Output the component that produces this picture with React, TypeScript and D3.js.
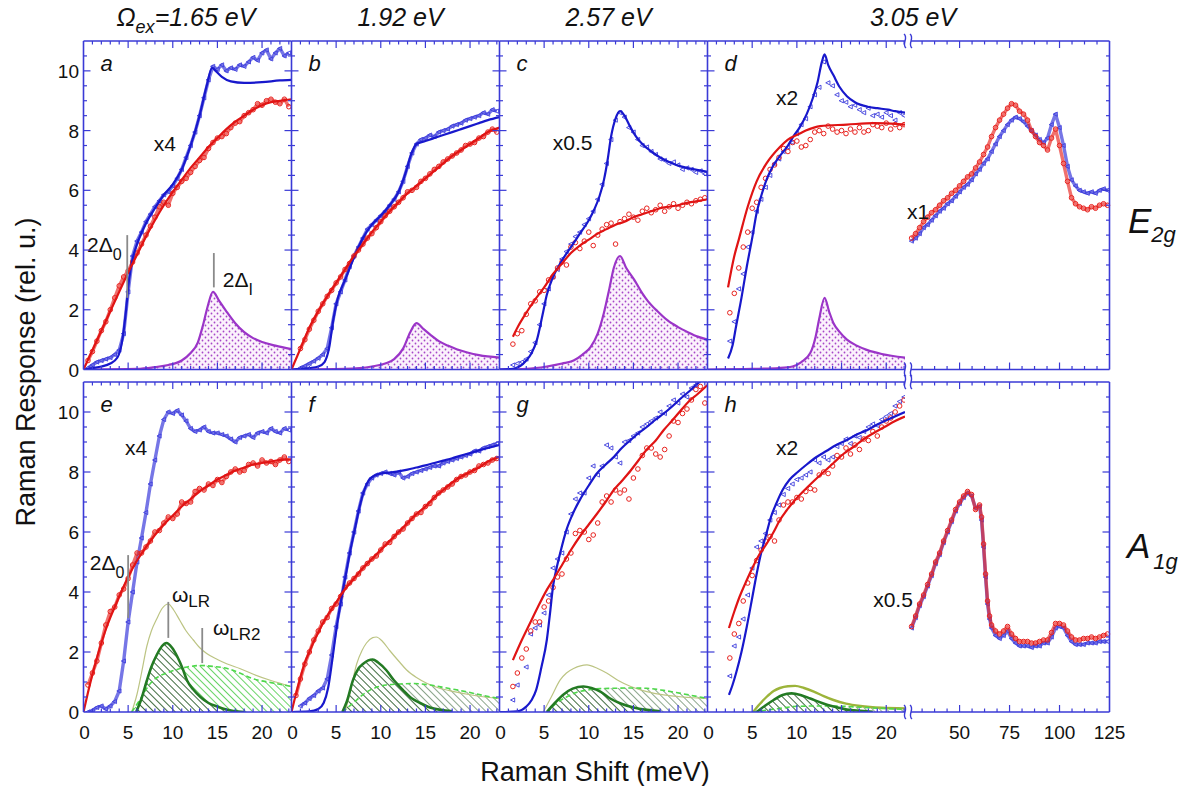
import * as d3 from 'd3';

type Pt = [number, number];
type Series = (number | null)[];

// shared Raman-shift grid (meV) for the low-energy data panels
const SHIFT = [
  0.5, 1, 1.5, 2, 2.5, 3, 3.5, 4, 4.5, 5,
  5.5, 6, 6.5, 7, 7.5, 8, 8.5, 9, 9.5, 10,
  10.5, 11, 11.5, 12, 12.5, 13, 13.5, 14, 14.5, 15,
  15.5, 16, 16.5, 17, 17.5, 18, 18.5, 19, 19.5, 20,
  20.5, 21, 21.5, 22, 22.5, 23,
];

// ---- E2g, a (1.65 eV)
const A_RED: Series = [0.3, 0.6, 0.95, 1.3, 1.6, 2.0, 2.4, 2.8, 3.1, 3.3, 3.6, 3.9, 4.2, 4.5, 4.8, 5.1, 5.45, 5.6, 5.5, 5.9, 6.1, 6.3, 6.4, 6.6, 6.8, 7.0, 7.1, 7.4, 7.6, 7.75, 7.8, 7.9, 8.1, 8.25, 8.3, 8.5, 8.6, 8.7, 8.9, 8.85, 9.0, 9.05, 8.95, 8.9, 9.05, 8.8];
const A_BLUE: Series = [0.05, 0.15, 0.25, 0.3, 0.35, 0.4, 0.5, 0.65, 1.2, 2.6, 3.8, 4.3, 4.6, 4.95, 5.2, 5.45, 5.65, 5.85, 5.95, 6.15, 6.4, 6.7, 7.1, 7.5, 7.95, 8.5, 9.1, 9.7, 10.15, 10.05, 10.2, 10.0, 10.1, 10.05, 10.2, 10.15, 10.3, 10.45, 10.35, 10.6, 10.7, 10.4, 10.6, 10.75, 10.5, 10.6];
const A_RED_FIT: Pt[] = [[0, 0], [1, 0.65], [2, 1.3], [3, 1.95], [4, 2.6], [5, 3.25], [6, 3.85], [7, 4.45], [8, 5.0], [9, 5.5], [10, 5.95], [11, 6.35], [12, 6.75], [13, 7.1], [14, 7.45], [15, 7.75], [16, 8.05], [17, 8.3], [18, 8.5], [19, 8.7], [20, 8.85], [21, 8.95], [22, 9.0], [23.3, 9.05]];
const A_BLUE_FIT: Pt[] = [[0, 0], [1, 0.05], [2, 0.1], [3, 0.2], [3.8, 0.4], [4.3, 0.9], [4.7, 1.8], [5.1, 3.0], [5.5, 3.7], [6, 4.2], [7, 4.9], [8, 5.4], [9, 5.85], [10, 6.2], [11, 6.7], [12, 7.5], [13, 8.5], [13.8, 9.5], [14.4, 10.1], [14.8, 10.0], [15.5, 9.8], [16.5, 9.65], [18, 9.6], [20, 9.62], [22, 9.68], [23.3, 9.7]];
const A_PEAK: Pt[] = [[0, 0], [6, 0.02], [8, 0.08], [9.5, 0.15], [11, 0.3], [12, 0.55], [12.8, 0.9], [13.4, 1.5], [13.9, 2.1], [14.5, 2.6], [15.2, 2.3], [16, 1.95], [17, 1.55], [18, 1.25], [19, 1.05], [20, 0.92], [21.5, 0.8], [23.3, 0.68]];

// ---- E2g, b (1.92 eV)
const B_RED: Series = [null, 0.7, 1.0, 1.35, 1.65, 1.95, 2.2, 2.45, 2.65, 2.9, 3.1, 3.35, 3.55, 3.8, 4.0, 4.2, 4.4, 4.55, 4.75, 4.95, 5.15, 5.3, 5.45, 5.6, 5.75, 5.95, 6.0, 6.1, 6.3, 6.4, 6.55, 6.7, 6.8, 6.95, 7.05, 7.15, 7.25, 7.35, 7.5, 7.55, 7.6, 7.75, 7.8, 7.95, 8.05, 7.95];
const B_BLUE: Series = [null, 0.05, 0.12, 0.2, 0.28, 0.38, 0.5, 0.7, 1.4, 2.2, 2.6, 3.0, 3.45, 3.8, 4.1, 4.4, 4.7, 4.85, 5.0, 5.15, 5.3, 5.5, 5.7, 5.95, 6.3, 6.8, 7.25, 7.55, 7.7, 7.75, 7.85, 7.8, 7.95, 8.0, 8.05, 8.15, 8.2, 8.25, 8.35, 8.4, 8.45, 8.5, 8.6, 8.55, 8.7, 8.65];
const B_RED_FIT: Pt[] = [[0, 0], [1, 0.7], [2, 1.4], [3, 1.95], [4, 2.45], [5, 2.9], [6, 3.35], [7, 3.8], [8, 4.2], [9, 4.6], [10, 4.95], [11, 5.3], [12, 5.6], [13, 5.9], [14, 6.15], [15, 6.4], [16, 6.65], [17, 6.9], [18, 7.15], [19, 7.35], [20, 7.55], [21, 7.75], [22, 7.95], [23.3, 8.1]];
const B_BLUE_FIT: Pt[] = [[0, 0], [1, 0.02], [2, 0.05], [3, 0.1], [3.7, 0.25], [4.2, 0.7], [4.7, 1.7], [5.2, 2.4], [6, 3.0], [7, 3.75], [8, 4.4], [9, 4.85], [10, 5.15], [11, 5.5], [12, 5.95], [12.8, 6.6], [13.4, 7.2], [14, 7.55], [15, 7.65], [16, 7.75], [17, 7.85], [18, 7.95], [19, 8.05], [20, 8.15], [21, 8.25], [22, 8.35], [23.3, 8.45]];
const B_PEAK: Pt[] = [[0, 0], [6, 0.02], [9, 0.1], [10.5, 0.2], [11.5, 0.35], [12.5, 0.7], [13.3, 1.25], [14, 1.55], [14.8, 1.35], [15.6, 1.15], [16.5, 0.95], [17.5, 0.8], [18.5, 0.68], [19.7, 0.57], [21, 0.48], [23.3, 0.4]];

// ---- E2g, c (2.57 eV)
const C_RED: Series = [null, null, 0.85, 1.2, 1.3, 1.85, 2.2, 2.3, 2.6, 2.65, 3.0, 3.1, 3.4, 3.6, 3.5, 4.1, 4.25, 4.05, 4.3, 4.6, 4.15, 4.5, 4.7, 4.85, 4.9, 4.2, 4.95, 5.05, 5.2, 5.1, 5.0, 5.3, 5.4, 5.25, 5.35, 5.5, 5.3, 5.45, 5.55, 5.4, 5.5, 5.6, 5.55, 5.65, 5.7, 5.75];
const C_BLUE: Series = [null, null, 0.15, 0.2, 0.25, 0.35, 0.6, 0.9, 1.5, 2.2, 2.7, 3.1, 3.35, 3.7, 3.95, 4.2, 4.45, 4.6, 4.85, 5.05, 5.3, 5.7, 6.2, 6.9, 7.7, 8.35, 8.6, 8.45, 8.1, 7.95, 7.7, 7.5, 7.45, 7.3, 7.2, 7.05, 7.0, 6.9, 6.95, 6.85, 6.7, 6.75, 6.7, 6.6, 6.65, 6.55];
const C_RED_FIT: Pt[] = [[1.5, 1.1], [2, 1.4], [3, 1.9], [4, 2.35], [4.5, 2.55], [5, 2.75], [6, 3.2], [7, 3.55], [8, 3.9], [9, 4.15], [10, 4.35], [11, 4.55], [12, 4.7], [13, 4.85], [14, 4.95], [15, 5.1], [16, 5.2], [17, 5.3], [18, 5.4], [19, 5.45], [20, 5.5], [21, 5.58], [22, 5.63], [23.3, 5.7]];
const C_BLUE_FIT: Pt[] = [[0, 0], [1.5, 0.02], [3, 0.3], [3.6, 0.55], [4.2, 1.0], [4.8, 1.8], [5.3, 2.5], [6, 3.1], [7, 3.65], [8, 4.1], [9, 4.55], [10, 5.0], [10.6, 5.35], [11.2, 5.8], [11.7, 6.35], [12.1, 7.0], [12.5, 7.8], [13.0, 8.4], [13.5, 8.65], [14, 8.5], [14.6, 8.15], [15.3, 7.8], [16, 7.55], [17, 7.3], [18, 7.1], [19, 6.95], [20.3, 6.8], [21.5, 6.72], [23.3, 6.62]];
const C_PEAK: Pt[] = [[0, 0], [3, 0.02], [5.3, 0.1], [7, 0.2], [8.3, 0.3], [9.3, 0.5], [10.2, 0.75], [11, 1.2], [11.7, 1.9], [12.3, 2.7], [12.8, 3.4], [13.5, 3.8], [14.2, 3.4], [15.1, 3.0], [16, 2.55], [16.6, 2.3], [17.7, 1.95], [18.8, 1.65], [20, 1.42], [21.1, 1.25], [22.2, 1.1], [23.3, 1.0]];

// ---- E2g, d (3.05 eV)
const D_RED: Series = [null, null, null, null, 1.9, 2.55, 3.4, 4.1, 4.6, 5.4, 5.6, 6.1, 6.4, 6.7, 6.85, 7.1, 7.4, 7.3, 7.6, 7.65, 7.45, 7.5, 7.7, 7.95, 8.0, 7.9, 8.15, 8.05, 7.95, 8.0, 7.9, 8.05, 7.95, 8.1, 7.95, 8.0, 8.2, 8.15, 8.1, 8.25, 8.05, 8.2, 8.1, 8.2, null, null];
const D_BLUE: Series = [null, null, null, null, 0.95, 1.6, 2.7, 3.2, 4.1, 4.6, 5.3, 5.7, 6.1, 6.5, 6.9, 7.05, 7.3, 7.45, 7.6, 7.9, 8.2, 8.4, 8.8, 9.2, 9.45, 10.3, 9.6, 9.5, 9.2, 9.0, 8.95, 8.8, 8.85, 8.7, 8.6, 8.75, 8.5, 8.55, 8.45, 8.6, 8.5, 8.35, 8.6, 8.5, null, null];
const D_RED_FIT: Pt[] = [[2.3, 2.75], [3, 3.8], [3.5, 4.35], [4.5, 5.45], [5.5, 6.3], [6.6, 6.9], [8.1, 7.45], [9, 7.7], [10.3, 7.9], [11, 8.0], [12.6, 8.15], [15.6, 8.2], [18.6, 8.25], [22.1, 8.2]];
const D_BLUE_FIT: Pt[] = [[2.3, 0.37], [2.8, 0.8], [3.2, 1.45], [3.8, 2.4], [4.4, 3.45], [5, 4.4], [5.5, 5.25], [6, 5.8], [6.6, 6.35], [7.3, 6.8], [8.1, 7.15], [9, 7.5], [9.6, 7.8], [10.3, 8.1], [11.1, 8.55], [11.8, 9.1], [12.3, 9.6], [12.8, 10.3], [13.1, 10.55], [13.5, 10.2], [14.1, 9.85], [14.8, 9.45], [15.6, 9.15], [16.5, 8.95], [17.9, 8.8], [19, 8.75], [20.2, 8.7], [21, 8.65], [22.1, 8.6]];
const D_PEAK: Pt[] = [[0, 0], [5, 0.02], [8, 0.05], [9.5, 0.1], [10.5, 0.25], [11.5, 0.55], [12.1, 1.1], [12.5, 1.7], [13.1, 2.4], [13.6, 1.95], [14.1, 1.55], [14.8, 1.25], [15.6, 1.0], [16.7, 0.8], [17.9, 0.65], [19.5, 0.52], [22.1, 0.4]];

// ---- A1g, e (1.65 eV)
const E_RED: Series = [0.9, 1.3, 1.7, 2.3, 2.9, 3.35, 3.5, 3.9, 4.1, 4.45, 4.9, 5.3, 5.3, 5.5, 5.7, 6.0, 6.05, 6.3, 6.5, 6.45, 6.6, 7.0, 6.95, 7.0, 7.35, 7.45, 7.4, 7.6, 7.55, 7.75, 7.65, 7.85, 8.0, 8.1, 8.0, 8.05, 8.25, 8.3, 8.2, 8.4, 8.3, 8.35, 8.25, 8.4, 8.5, 8.35];
const E_BLUE: Series = [0.0, 0.05, 0.15, 0.2, 0.1, 0.2, 0.35, 0.7, 1.7, 3.0, 4.0, 5.0, 5.8, 6.65, 7.6, 8.4, 9.2, 9.75, 10.0, 9.95, 10.05, 9.9, 9.7, 9.45, 9.35, 9.4, 9.5, 9.35, 9.3, 9.3, 9.25, 9.2, 9.1, 9.0, 9.15, 9.2, 9.25, 9.15, 9.3, 9.35, 9.3, 9.45, 9.35, 9.3, 9.45, 9.4];
const E_RED_FIT: Pt[] = [[0, 0], [0.5, 0.65], [1, 1.25], [1.5, 1.8], [2, 2.3], [2.5, 2.75], [3, 3.15], [3.5, 3.5], [4, 3.85], [5, 4.5], [6, 5.05], [7, 5.5], [8, 5.9], [9, 6.25], [10, 6.55], [11, 6.85], [12, 7.1], [13, 7.35], [14, 7.55], [15, 7.75], [16, 7.9], [17, 8.05], [18, 8.15], [19, 8.25], [20, 8.3], [21, 8.35], [22, 8.4], [23.3, 8.42]];
const E_TOTAL: Pt[] = [[5.4, 0], [6, 0.6], [6.5, 1.3], [7.1, 2.2], [7.6, 2.7], [8.2, 3.1], [8.8, 3.45], [9.5, 3.6], [10.1, 3.4], [10.8, 3.05], [11.5, 2.7], [12.3, 2.4], [13, 2.15], [13.8, 1.95], [15, 1.75], [16.1, 1.6], [17.5, 1.45], [19.1, 1.25], [21, 1.05], [23.3, 0.85]];
const E_LR: Pt[] = [[5.9, 0], [6.5, 0.45], [7.1, 1.05], [7.6, 1.5], [8.2, 1.9], [8.8, 2.2], [9.3, 2.3], [9.9, 2.15], [10.5, 1.85], [11.1, 1.45], [11.6, 1.05], [12.3, 0.75], [13.1, 0.5], [14, 0.3], [15, 0.18], [16, 0.08], [16.8, 0.03], [18, 0]];
const E_LR2: Pt[] = [[5.4, 0], [6.3, 0.4], [7.0, 0.75], [7.8, 1.05], [8.5, 1.2], [9.3, 1.3], [10.5, 1.42], [11.6, 1.5], [13.1, 1.55], [14.5, 1.52], [16.1, 1.45], [17.5, 1.3], [19.1, 1.1], [21, 0.98], [23.3, 0.85]];

// ---- A1g, f (1.92 eV)
const F_RED: Series = [0.55, 1.1, 1.6, 2.0, 2.4, 2.7, 3.0, 3.15, 3.45, 3.6, 3.85, 4.15, 4.3, 4.45, 4.6, 4.8, 4.95, 5.1, 5.2, 5.4, 5.6, 5.65, 5.85, 6.0, 6.1, 6.3, 6.45, 6.6, 6.65, 6.85, 6.95, 7.15, 7.3, 7.4, 7.5, 7.6, 7.75, 7.85, 7.9, 8.0, 8.05, 8.2, 8.25, 8.3, 8.4, 8.45];
const F_BLUE: Series = [null, 0.2, 0.3, 0.45, 0.55, 0.7, 0.8, 1.1, 1.9, 2.85, 3.6, 4.5, 5.3, 6.0, 6.7, 7.3, 7.6, 7.8, 7.9, 7.95, 8.0, 7.95, 7.9, 8.0, 7.8, 7.85, 7.95, 8.0, 8.05, 8.1, 8.15, 8.2, 8.2, 8.3, 8.35, 8.4, 8.45, 8.5, 8.55, 8.6, 8.7, 8.7, 8.8, 8.85, 8.9, 8.95];
const F_RED_FIT: Pt[] = [[0, 0], [0.5, 0.6], [1, 1.15], [1.5, 1.65], [2, 2.0], [2.5, 2.35], [3, 2.65], [3.5, 2.95], [4, 3.2], [5, 3.65], [6, 4.1], [7, 4.45], [8, 4.8], [9, 5.1], [10, 5.4], [11, 5.7], [12, 6.0], [13, 6.3], [14, 6.6], [15, 6.85], [16, 7.15], [17, 7.4], [18, 7.65], [19, 7.85], [20, 8.0], [21, 8.15], [22, 8.35], [23.3, 8.5]];
const F_BLUE_FIT: Pt[] = [[0, 0], [2, 0.02], [3, 0.1], [3.6, 0.3], [4.1, 0.8], [4.6, 1.8], [5.1, 2.9], [5.6, 3.8], [6.1, 4.6], [6.6, 5.4], [7.1, 6.1], [7.6, 6.8], [8.1, 7.35], [8.6, 7.7], [9.3, 7.88], [10, 7.95], [11, 7.98], [12, 8.02], [13, 8.08], [14, 8.15], [15, 8.22], [16, 8.3], [17, 8.38], [18, 8.46], [19, 8.55], [20, 8.63], [21, 8.72], [22, 8.8], [23.3, 8.9]];
const F_TOTAL: Pt[] = [[6.0, 0], [6.6, 0.7], [7.3, 1.6], [7.9, 2.05], [8.4, 2.3], [9.1, 2.48], [9.5, 2.5], [10.2, 2.35], [11, 2.05], [12, 1.7], [12.9, 1.4], [14, 1.15], [15.2, 0.95], [16.5, 0.8], [18.2, 0.68], [20.5, 0.55], [23.3, 0.45]];
const F_LR: Pt[] = [[5.7, 0], [6.2, 0.35], [6.9, 1.07], [7.5, 1.45], [8, 1.6], [8.6, 1.72], [9.1, 1.75], [9.7, 1.65], [10.6, 1.4], [11.5, 1.05], [12.5, 0.73], [13.5, 0.45], [14.4, 0.3], [15.5, 0.15], [16.7, 0.07], [18, 0.02]];
const F_LR2: Pt[] = [[5.7, 0], [6.5, 0.2], [7.3, 0.4], [8.0, 0.58], [8.8, 0.73], [9.6, 0.83], [10.6, 0.9], [12, 0.93], [13.6, 0.95], [15.5, 0.9], [17.4, 0.8], [19.5, 0.68], [21.5, 0.55], [23.3, 0.45]];

// ---- A1g, g (2.57 eV)
const G_RED: Series = [null, null, 0.85, 1.3, 1.8, 2.1, 2.7, 3.0, 3.0, 3.5, 3.7, 4.15, 4.5, 4.6, 5.1, 5.3, 5.95, 6.05, 6.0, 5.75, 5.9, 6.3, 7.0, 7.2, 7.0, 7.4, 7.3, 7.4, 7.1, 7.8, 8.1, 8.55, 8.8, 8.8, 8.6, 8.5, 8.75, 9.2, 9.7, 9.65, 9.95, 10.1, 10.4, 10.75, 10.85, 10.3];
const G_BLUE: Series = [null, null, 0.4, 0.9, null, 1.5, 2.6, 2.8, 2.9, 3.3, 3.9, 4.8, 5.1, 5.3, 6.0, 6.6, 7.1, 7.3, 7.3, 7.8, 8.2, 7.9, 8.2, 8.9, 8.8, 8.5, 8.3, 9.0, 9.05, 9.2, 9.3, 9.5, 9.6, 9.7, 9.8, 10.0, 9.95, 10.2, 10.4, 10.3, 10.6, 10.5, 10.8, 10.9, null, null];
const G_RED_FIT: Pt[] = [[1.5, 1.73], [2.5, 2.4], [3.4, 2.95], [4.3, 3.5], [5.3, 4.07], [6.2, 4.5], [7.1, 4.95], [8, 5.4], [9, 5.85], [10, 6.25], [10.9, 6.6], [12, 7.05], [12.8, 7.4], [13.7, 7.7], [14.7, 8.05], [15.6, 8.4], [16.5, 8.75], [17.5, 9.05], [18.4, 9.4], [19.3, 9.7], [20.3, 10.05], [21.2, 10.35], [22.2, 10.6], [23.3, 10.9]];
const G_BLUE_FIT: Pt[] = [[0, 0], [2, 0.02], [3, 0.18], [3.6, 0.4], [4.1, 0.73], [4.7, 1.5], [5.3, 2.4], [5.7, 3.4], [6, 4.2], [6.4, 4.8], [6.8, 5.3], [7.5, 6.07], [8.2, 6.6], [9, 7.07], [10, 7.55], [10.9, 7.95], [11.9, 8.25], [12.8, 8.5], [13.7, 8.8], [14.7, 9.07], [15.6, 9.3], [16.5, 9.5], [17.5, 9.75], [18.4, 9.95], [19.4, 10.2], [20.3, 10.45], [21.3, 10.7], [22.2, 10.95], [23.3, 11.2]];
const G_TOTAL: Pt[] = [[4.9, 0], [5.8, 0.5], [6.8, 1.07], [7.5, 1.3], [8.3, 1.45], [9.8, 1.57], [11, 1.45], [12, 1.3], [13.3, 1.05], [14.7, 0.85], [16.5, 0.68], [18.4, 0.57], [20.5, 0.5], [23.3, 0.45]];
const G_LR: Pt[] = [[5.3, 0], [6.2, 0.3], [7.1, 0.57], [8.2, 0.78], [9.4, 0.85], [10.3, 0.8], [11.3, 0.68], [12.4, 0.45], [13.5, 0.29], [15, 0.15], [16.5, 0.07], [18, 0.02]];
const G_LR2: Pt[] = [[5.3, 0], [6.4, 0.3], [7.5, 0.5], [8.6, 0.65], [9.8, 0.73], [11.3, 0.78], [12.8, 0.79], [14.7, 0.8], [16.5, 0.79], [18.4, 0.72], [20.3, 0.62], [23.3, 0.45]];

// ---- A1g, h (3.05 eV)
const H_RED: Series = [null, null, null, null, 1.8, 2.6, 2.95, 3.7, 4.3, 4.55, 5.05, 5.4, 5.7, 5.85, 5.7, 6.4, 6.9, 7.0, 7.0, 7.15, 7.1, 7.35, 7.45, 7.4, 7.9, 8.0, 7.95, 8.2, 8.55, 8.5, 8.8, 8.6, 8.9, 8.75, 9.1, 9.05, 9.35, 9.2, 9.5, 9.7, 9.8, 10.0, 10.2, 10.4, null, null];
const H_BLUE: Series = [null, null, null, null, 1.2, 2.2, 2.5, 3.1, 3.9, 4.8, 5.5, 5.7, 5.95, 6.4, 6.65, 6.9, 7.25, 7.45, 7.6, 7.75, 7.8, 7.9, 8.0, 8.4, 8.3, 8.5, 8.4, 8.5, 8.85, 8.95, 9.1, 8.95, 9.2, 9.15, 9.35, 9.5, 9.6, 9.55, 9.75, 9.85, 9.95, 10.2, 10.35, 10.5, null, null];
const H_RED_FIT: Pt[] = [[2.4, 2.8], [3, 3.35], [3.6, 3.85], [4.4, 4.4], [5.1, 4.85], [5.8, 5.25], [6.6, 5.6], [7.4, 6.0], [8.1, 6.4], [8.8, 6.7], [9.6, 7.0], [10.7, 7.35], [11.9, 7.7], [13, 8.0], [14.1, 8.3], [15.2, 8.6], [16.4, 8.85], [17.5, 9.1], [18.6, 9.3], [19.8, 9.5], [21, 9.7], [22.1, 9.85]];
const H_BLUE_FIT: Pt[] = [[2.4, 0.57], [2.8, 0.9], [3.2, 1.3], [3.8, 2.0], [4.4, 2.85], [5, 3.8], [5.5, 4.6], [6, 5.3], [6.6, 5.95], [7.1, 6.5], [7.7, 6.95], [8.4, 7.4], [9.2, 7.75], [10.1, 8.0], [11.1, 8.25], [12.2, 8.5], [13.3, 8.7], [14.4, 8.9], [15.6, 9.07], [16.7, 9.25], [17.9, 9.4], [19, 9.58], [20.2, 9.75], [22.1, 10.0]];
const H_TOTAL: Pt[] = [[5.1, 0], [5.8, 0.25], [6.6, 0.5], [7.4, 0.7], [8.1, 0.8], [9.0, 0.86], [9.8, 0.87], [10.8, 0.8], [11.9, 0.68], [13, 0.53], [14.1, 0.4], [15.5, 0.28], [17.1, 0.2], [19.5, 0.14], [22.1, 0.12]];
const H_LR: Pt[] = [[5.5, 0], [6.4, 0.2], [7.4, 0.4], [8.4, 0.57], [9.4, 0.62], [10.4, 0.57], [11.5, 0.45], [12.8, 0.3], [14.1, 0.18], [15.6, 0.08], [17.1, 0.04], [18.5, 0.01]];
const H_LR2: Pt[] = [[5.1, 0], [6.5, 0.06], [8.1, 0.12], [10, 0.19], [12, 0.2], [14, 0.2], [17, 0.16], [19.5, 0.12], [22.1, 0.09]];

// ---- high-energy (3.05 eV) spectra, right-hand panels
const E2G_SHIFT = [26, 28, 30, 32, 34, 36, 38, 40, 42, 44, 46, 48, 50, 52, 54, 56, 58, 60, 62, 64, 66, 68, 70, 72, 74, 76, 78, 80, 82, 84, 86, 88, 90, 92, 94, 96, 98, 100, 102, 104, 106, 108, 110, 112, 114, 116, 118, 120, 122, 124];
const E2G_RED = [4.4, 4.55, 4.75, 4.95, 5.1, 5.25, 5.35, 5.5, 5.65, 5.75, 5.9, 6.0, 6.15, 6.3, 6.45, 6.55, 6.75, 6.95, 7.2, 7.45, 7.8, 8.1, 8.35, 8.55, 8.75, 8.9, 8.85, 8.65, 8.55, 8.35, 8.0, 7.8, 7.6, 7.5, 7.35, 7.75, 8.05, 7.5, 6.9, 6.3, 5.75, 5.55, 5.45, 5.4, 5.35, 5.45, 5.4, 5.5, 5.55, 5.5];
const E2G_BLUE = [4.3, 4.4, 4.55, 4.75, 4.85, 5.0, 5.15, 5.3, 5.4, 5.55, 5.65, 5.8, 5.95, 6.1, 6.2, 6.35, 6.55, 6.7, 6.9, 7.05, 7.3, 7.55, 7.8, 8.0, 8.2, 8.35, 8.45, 8.4, 8.3, 8.15, 8.0, 7.85, 7.7, 7.6, 7.75, 8.2, 8.55, 8.1, 7.5, 6.8, 6.35, 6.15, 6.0, 5.95, 5.9, 5.95, 5.9, 6.0, 6.05, 6.0];
const A1G_SHIFT = [26, 28, 30, 32, 34, 36, 38, 40, 42, 44, 46, 48, 50, 52, 54, 56, 58, 60, 61, 62, 63, 64, 65, 66, 68, 70, 72, 74, 76, 78, 80, 82, 84, 86, 88, 90, 92, 94, 96, 98, 100, 102, 104, 106, 108, 110, 112, 114, 116, 118, 120, 122, 124];
const A1G_RED = [2.85, 3.2, 3.6, 3.9, 4.25, 4.6, 5.0, 5.3, 5.7, 6.05, 6.4, 6.75, 7.0, 7.2, 7.35, 7.25, 6.75, 6.9, 6.5, 5.6, 4.6, 3.7, 3.2, 2.9, 2.7, 2.6, 2.7, 2.85, 2.6, 2.45, 2.35, 2.35, 2.35, 2.3, 2.3, 2.35, 2.4, 2.4, 2.65, 2.95, 2.95, 2.9, 2.7, 2.5, 2.4, 2.4, 2.45, 2.45, 2.5, 2.45, 2.5, 2.55, 2.6];
const A1G_BLUE = [2.8, 3.15, 3.55, 3.85, 4.2, 4.55, 4.95, 5.25, 5.65, 6.0, 6.35, 6.7, 6.95, 7.15, 7.3, 7.2, 6.8, 6.85, 6.4, 5.5, 4.5, 3.6, 3.1, 2.8, 2.55, 2.45, 2.55, 2.7, 2.45, 2.3, 2.2, 2.2, 2.2, 2.15, 2.2, 2.2, 2.3, 2.3, 2.5, 2.8, 2.85, 2.8, 2.55, 2.35, 2.25, 2.25, 2.25, 2.3, 2.3, 2.3, 2.35, 2.35, 2.35];

const Y_TICK_LABELS = [0, 2, 4, 6, 8, 10];
const X_TICK_LABELS = [0, 5, 10, 15, 20];
const WIDE_TICK_LABELS = [50, 75, 100, 125];
const TITLES = ['1.65 eV', '1.92 eV', '2.57 eV', '3.05 eV'];

// layout
const W = 1178;
const H = 786;
const COLS = [
  { left: 83.5, right: 291.5, max: 23.3 },
  { left: 291.5, right: 499.5, max: 23.3 },
  { left: 499.5, right: 707.5, max: 23.3 },
  { left: 707.5, right: 905, max: 22.1 },
];
const ROWS = [{ top: 41, bottom: 369.5 }, { top: 382, bottom: 712 }];
const WIDE = { left: 911, right: 1109.5, min: 25.7, max: 125 };
const Y_MAX = 11;

const FRAME = '#3a3ad6';
const RED = '#e8231f';
const RED_FIT = '#e01414';
const BLUE = '#3c3cdc';
const BLUE_FIT = '#1818cc';
const PURPLE = '#9b35c8';
const DARK_GREEN = '#237a23';
const FONT = '"Liberation Sans", Arial, Helvetica, sans-serif';

type Note = { text: string; sub?: string; x: number; y: number; anchor?: 'start' | 'middle' };
type Mark = { x: number; y1: number; y2: number };

interface PanelSpec {
  letter: string;
  row: number;
  col: number;
  red: Series;
  blue: Series;
  dense?: boolean;
  redFit?: Pt[];
  blueFit?: Pt[];
  peak?: Pt[];
  total?: Pt[];
  lr?: Pt[];
  lr2?: Pt[];
  lr2Color?: string;
  totalBold?: boolean;
  notes?: Note[];
  marks?: Mark[];
}

const PANELS: PanelSpec[] = [
  {
    letter: 'a', row: 0, col: 0, red: A_RED, blue: A_BLUE, dense: true, redFit: A_RED_FIT, blueFit: A_BLUE_FIT, peak: A_PEAK,
    notes: [
      { text: 'x4', x: 9.1, y: 7.3, anchor: 'middle' },
      { text: '2Δ', sub: '0', x: 0.4, y: 3.93 },
      { text: '2Δ', sub: 'I', x: 15.6, y: 2.75 },
    ],
    marks: [{ x: 4.9, y1: 4.5, y2: 2.4 }, { x: 14.6, y1: 3.9, y2: 2.75 }],
  },
  { letter: 'b', row: 0, col: 1, red: B_RED, blue: B_BLUE, dense: true, redFit: B_RED_FIT, blueFit: B_BLUE_FIT, peak: B_PEAK },
  {
    letter: 'c', row: 0, col: 2, red: C_RED, blue: C_BLUE, redFit: C_RED_FIT, blueFit: C_BLUE_FIT, peak: C_PEAK,
    notes: [{ text: 'x0.5', x: 8.2, y: 7.35, anchor: 'middle' }],
  },
  {
    letter: 'd', row: 0, col: 3, red: D_RED, blue: D_BLUE, redFit: D_RED_FIT, blueFit: D_BLUE_FIT, peak: D_PEAK,
    notes: [{ text: 'x2', x: 8.9, y: 8.85, anchor: 'middle' }],
  },
  {
    letter: 'e', row: 1, col: 0, red: E_RED, blue: E_BLUE, dense: true, redFit: E_RED_FIT, total: E_TOTAL, lr: E_LR, lr2: E_LR2, lr2Color: 'light',
    notes: [
      { text: 'x4', x: 5.9, y: 8.57, anchor: 'middle' },
      { text: '2Δ', sub: '0', x: 0.7, y: 4.73 },
      { text: 'ω', sub: 'LR', x: 9.9, y: 3.67 },
      { text: 'ω', sub: 'LR2', x: 14.5, y: 2.57 },
    ],
    marks: [{ x: 5.0, y1: 5.23, y2: 3.13 }, { x: 9.5, y1: 3.67, y2: 2.47 }, { x: 13.3, y1: 2.8, y2: 1.63 }],
  },
  { letter: 'f', row: 1, col: 1, red: F_RED, blue: F_BLUE, dense: true, redFit: F_RED_FIT, blueFit: F_BLUE_FIT, total: F_TOTAL, lr: F_LR, lr2: F_LR2, lr2Color: 'grey' },
  { letter: 'g', row: 1, col: 2, red: G_RED, blue: G_BLUE, redFit: G_RED_FIT, blueFit: G_BLUE_FIT, total: G_TOTAL, lr: G_LR, lr2: G_LR2, lr2Color: 'grey' },
  {
    letter: 'h', row: 1, col: 3, red: H_RED, blue: H_BLUE, redFit: H_RED_FIT, blueFit: H_BLUE_FIT, total: H_TOTAL, lr: H_LR, lr2: H_LR2, lr2Color: 'grey', totalBold: true,
    notes: [{ text: 'x2', x: 8.9, y: 8.57, anchor: 'middle' }],
  },
];

const triangle = 'M-2.4,0L1.8,-2.1L1.8,2.1Z';

function NoteText({ n, x, y }: { n: Note; x: (v: number) => number; y: (v: number) => number }) {
  return (
    <text x={x(n.x)} y={y(n.y)} fontSize={21} fill="#111" textAnchor={n.anchor ?? 'start'}>
      {n.text}
      {n.sub && (
        <tspan dy={n.text === 'ω' ? 5 : 8} fontSize={n.text === 'ω' ? 17 : 16}>{n.sub}</tspan>
      )}
    </text>
  );
}

// measured points; dense spectra get a band behind the markers, as the raw data overlap into one
function Scatter({ blue, red, x, y, dense }: { blue: Pt[]; red: Pt[]; x: (v: number) => number; y: (v: number) => number; dense?: boolean }) {
  const band = d3.line<Pt>().x((d) => x(d[0])).y((d) => y(d[1]));
  return (
    <g>
      {dense && <path d={band(blue) ?? ''} fill="none" stroke={BLUE} strokeWidth={3.4} strokeOpacity={0.7} strokeLinejoin="round" />}
      {blue.map((p, i) => (
        <path key={`b${i}`} d={triangle} transform={`translate(${x(p[0])},${y(p[1])})`} fill="none" stroke={BLUE} strokeWidth={0.9} />
      ))}
      {dense && <path d={band(red) ?? ''} fill="none" stroke={RED} strokeWidth={3.4} strokeOpacity={0.65} strokeLinejoin="round" />}
      {red.map((p, i) => (
        <circle key={`r${i}`} cx={x(p[0])} cy={y(p[1])} r={2.3} fill="none" stroke={RED} strokeWidth={1} />
      ))}
    </g>
  );
}

function Panel({ spec }: { spec: PanelSpec }) {
  const col = COLS[spec.col];
  const row = ROWS[spec.row];
  const x = d3.scaleLinear().domain([0, col.max]).range([col.left, col.right]);
  const y = d3.scaleLinear().domain([0, Y_MAX]).range([row.bottom, row.top]);
  const line = d3.line<Pt>().x((d) => x(d[0])).y((d) => y(d[1])).curve(d3.curveMonotoneX);
  const area = d3.area<Pt>().x((d) => x(d[0])).y0(y(0)).y1((d) => y(d[1])).curve(d3.curveMonotoneX);
  const clip = `clip-${spec.letter}`;
  const pts = (s: Series) =>
    SHIFT.map((sx, i) => [sx, s[i]] as [number, number | null]).filter(
      (p): p is Pt => p[1] != null && p[0] <= col.max,
    );

  return (
    <g>
      <clipPath id={clip}>
        <rect x={col.left} y={row.top} width={col.right - col.left} height={row.bottom - row.top} />
      </clipPath>
      <g clipPath={`url(#${clip})`}>
        {spec.peak && (
          <g>
            <path d={area(spec.peak) ?? ''} fill="url(#dots)" />
            <path d={line(spec.peak) ?? ''} fill="none" stroke={PURPLE} strokeWidth={2.2} />
          </g>
        )}
        {spec.lr2 && spec.lr && spec.total && (
          <g>
            <path d={area(spec.lr2) ?? ''} fill={spec.lr2Color === 'light' ? 'url(#hatchLight)' : 'url(#hatchGrey)'} />
            <path d={area(spec.lr) ?? ''} fill="url(#hatchDark)" />
            <path d={line(spec.total) ?? ''} fill="none" stroke={spec.totalBold ? '#9cb43a' : '#bcc483'} strokeWidth={spec.totalBold ? 2.4 : 1.2} />
            <path d={line(spec.lr2) ?? ''} fill="none" stroke="#4ed84a" strokeWidth={1.6} strokeDasharray="5,3" />
            <path d={line(spec.lr) ?? ''} fill="none" stroke={DARK_GREEN} strokeWidth={2.6} />
          </g>
        )}
        <Scatter blue={pts(spec.blue)} red={pts(spec.red)} x={x} y={y} dense={spec.dense} />
        {spec.blueFit && <path d={line(spec.blueFit) ?? ''} fill="none" stroke={BLUE_FIT} strokeWidth={2.2} />}
        {spec.redFit && <path d={line(spec.redFit) ?? ''} fill="none" stroke={RED_FIT} strokeWidth={2.2} />}
      </g>
      {(spec.marks ?? []).map((m, i) => (
        <line key={`m${i}`} x1={x(m.x)} x2={x(m.x)} y1={y(m.y1)} y2={y(m.y2)} stroke="#8a8a8a" strokeWidth={1.8} />
      ))}
      {(spec.notes ?? []).map((n, i) => (
        <NoteText key={`n${i}`} n={n} x={x} y={y} />
      ))}
      <text x={col.left + 17} y={row.top + 30} fontSize={22} fontStyle="italic" fill="#111">{spec.letter}</text>
    </g>
  );
}

function WidePanel({ row, sx, red, blue, note }: { row: number; sx: number[]; red: number[]; blue: number[]; note: Note }) {
  const r = ROWS[row];
  const x = d3.scaleLinear().domain([WIDE.min, WIDE.max]).range([WIDE.left, WIDE.right]);
  const y = d3.scaleLinear().domain([0, Y_MAX]).range([r.bottom, r.top]);
  const bluePts = blue.map((v, i) => [sx[i], v] as Pt);
  const redPts = red.map((v, i) => [sx[i], v] as Pt);
  return (
    <g>
      <Scatter blue={bluePts} red={redPts} x={x} y={y} dense />
      <NoteText n={note} x={x} y={y} />
    </g>
  );
}

function Frames() {
  const els: JSX.Element[] = [];
  const yTicks = d3.range(0.5, Y_MAX, 0.5);
  ROWS.forEach((r, ri) => {
    const y = d3.scaleLinear().domain([0, Y_MAX]).range([r.bottom, r.top]);
    // vertical edges with inward ticks
    const edges: { x: number; dirs: number[] }[] = [
      { x: COLS[0].left, dirs: [1] },
      { x: COLS[1].left, dirs: [1, -1] },
      { x: COLS[2].left, dirs: [1, -1] },
      { x: COLS[3].left, dirs: [1, -1] },
      { x: WIDE.right, dirs: [-1] },
    ];
    edges.forEach((e, ei) => {
      els.push(<line key={`v${ri}-${ei}`} x1={e.x} x2={e.x} y1={r.top} y2={r.bottom} stroke={FRAME} strokeWidth={1.6} />);
      yTicks.forEach((t) => {
        const len = t % 2 === 0 ? 7 : 3.5;
        e.dirs.forEach((dir) => {
          els.push(<line key={`vt${ri}-${ei}-${t}-${dir}`} x1={e.x} x2={e.x + dir * len} y1={y(t)} y2={y(t)} stroke={FRAME} strokeWidth={1.2} />);
        });
      });
    });
    // horizontal edges
    COLS.forEach((c, ci) => {
      const x = d3.scaleLinear().domain([0, c.max]).range([c.left, c.right]);
      [r.top, r.bottom].forEach((yy, k) => {
        els.push(<line key={`h${ri}-${ci}-${k}`} x1={c.left} x2={c.right} y1={yy} y2={yy} stroke={FRAME} strokeWidth={1.6} />);
        d3.range(1, Math.floor(c.max) + 1).forEach((t) => {
          const len = t % 5 === 0 ? 7 : 3.5;
          const dir = k === 0 ? 1 : -1;
          els.push(<line key={`ht${ri}-${ci}-${k}-${t}`} x1={x(t)} x2={x(t)} y1={yy} y2={yy + dir * len} stroke={FRAME} strokeWidth={1.2} />);
        });
      });
    });
    const xw = d3.scaleLinear().domain([WIDE.min, WIDE.max]).range([WIDE.left, WIDE.right]);
    [r.top, r.bottom].forEach((yy, k) => {
      els.push(<line key={`hw${ri}-${k}`} x1={WIDE.left} x2={WIDE.right} y1={yy} y2={yy} stroke={FRAME} strokeWidth={1.6} />);
      d3.range(31.25, 125, 6.25).forEach((t) => {
        const len = t % 25 === 0 ? 7 : 3.5;
        const dir = k === 0 ? 1 : -1;
        els.push(<line key={`hwt${ri}-${k}-${t}`} x1={xw(t)} x2={xw(t)} y1={yy} y2={yy + dir * len} stroke={FRAME} strokeWidth={1.2} />);
      });
      // axis-break squiggles
      [COLS[3].right, WIDE.left].forEach((bx, bi) => {
        els.push(
          <path key={`br${ri}-${k}-${bi}`} d={`M${bx - 1},${yy - 7}C${bx + 4},${yy - 3} ${bx - 4},${yy + 3} ${bx + 1},${yy + 7}`} fill="none" stroke={FRAME} strokeWidth={1.4} />,
        );
      });
    });
  });
  return <g>{els}</g>;
}

function TickLabels() {
  const els: JSX.Element[] = [];
  ROWS.forEach((r, ri) => {
    const y = d3.scaleLinear().domain([0, Y_MAX]).range([r.bottom, r.top]);
    Y_TICK_LABELS.forEach((v) => {
      els.push(<text key={`yl${ri}-${v}`} x={79} y={y(v) + 7} fontSize={19} textAnchor="end" fill="#111">{v}</text>);
    });
  });
  const bottom = ROWS[1].bottom;
  COLS.forEach((c, ci) => {
    const x = d3.scaleLinear().domain([0, c.max]).range([c.left, c.right]);
    X_TICK_LABELS.forEach((v) => {
      els.push(<text key={`xl${ci}-${v}`} x={x(v) + (v === 0 ? 1 : 0)} y={bottom + 27} fontSize={19} textAnchor="middle" fill="#111">{v}</text>);
    });
  });
  const xw = d3.scaleLinear().domain([WIDE.min, WIDE.max]).range([WIDE.left, WIDE.right]);
  WIDE_TICK_LABELS.forEach((v) => {
    els.push(<text key={`wl${v}`} x={xw(v)} y={bottom + 27} fontSize={19} textAnchor="middle" fill="#111">{v}</text>);
  });
  return <g>{els}</g>;
}

export default function App() {
  const titleX = COLS.map((c) => (c.left + c.right) / 2);
  return (
    <div style={{ position: 'absolute', left: 0, top: 0 }}>
      <svg width={W} height={H} viewBox={`0 0 ${W} ${H}`} style={{ display: 'block', background: '#fff', fontFamily: FONT }}>
        <defs>
          <pattern id="dots" width={6} height={6} patternUnits="userSpaceOnUse">
            <rect width={6} height={6} fill="#fbf2fc" />
            <circle cx={1.5} cy={1.5} r={0.9} fill="#a646c8" />
            <circle cx={4.5} cy={4.5} r={0.9} fill="#a646c8" />
          </pattern>
          <pattern id="hatchDark" width={5} height={5} patternUnits="userSpaceOnUse" patternTransform="rotate(-45)">
            <rect width={5} height={5} fill="#fff" />
            <line x1={0} y1={0} x2={0} y2={5} stroke="#3f6b3f" strokeWidth={2} />
          </pattern>
          <pattern id="hatchLight" width={5} height={5} patternUnits="userSpaceOnUse" patternTransform="rotate(-45)">
            <rect width={5} height={5} fill="#fff" />
            <line x1={0} y1={0} x2={0} y2={5} stroke="#58d054" strokeWidth={1.8} />
          </pattern>
          <pattern id="hatchGrey" width={5} height={5} patternUnits="userSpaceOnUse" patternTransform="rotate(-45)">
            <rect width={5} height={5} fill="#fff" />
            <line x1={0} y1={0} x2={0} y2={5} stroke="#6f8f6f" strokeWidth={1.6} />
          </pattern>
        </defs>

        {PANELS.map((p) => (
          <Panel key={p.letter} spec={p} />
        ))}
        <WidePanel row={0} sx={E2G_SHIFT} red={E2G_RED} blue={E2G_BLUE} note={{ text: 'x1', x: 29.2, y: 5.05, anchor: 'middle' }} />
        <WidePanel row={1} sx={A1G_SHIFT} red={A1G_RED} blue={A1G_BLUE} note={{ text: 'x0.5', x: 16.7, y: 3.5, anchor: 'middle' }} />

        <Frames />
        <TickLabels />

        {/* column titles */}
        <text x={186} y={26} fontSize={25} fontStyle="italic" textAnchor="middle" fill="#111">
          Ω<tspan dy={7} fontSize={18}>ex</tspan>
          <tspan dy={-7}>={TITLES[0]}</tspan>
        </text>
        {TITLES.slice(1).map((t, i) => (
          <text key={t} x={i === 2 ? 913 : titleX[i + 1] + 5} y={26} fontSize={25} fontStyle="italic" textAnchor="middle" fill="#111">{t}</text>
        ))}

        {/* symmetry labels */}
        <text x={1128} y={233} fontSize={35} fontStyle="italic" fill="#111">
          E<tspan dy={9} fontSize={22}>2g</tspan>
        </text>
        <text x={1127} y={558} fontSize={35} fontStyle="italic" fill="#111">
          A<tspan dx={3} dy={11} fontSize={22}>1g</tspan>
        </text>

        {/* axis titles */}
        <text transform="translate(35,372) rotate(-90)" fontSize={27} textAnchor="middle" fill="#111">Raman Response (rel. u.)</text>
        <text x={595} y={781} fontSize={27} textAnchor="middle" fill="#111">Raman Shift (meV)</text>
      </svg>
    </div>
  );
}
